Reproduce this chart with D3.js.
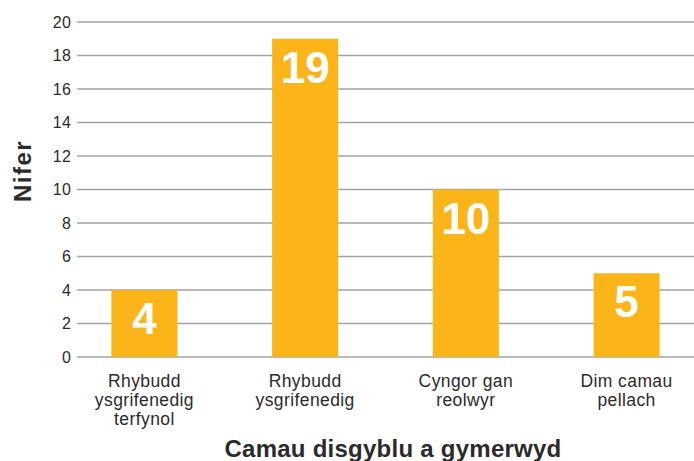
<!DOCTYPE html>
<html><head><meta charset="utf-8">
<script src="https://cdn.jsdelivr.net/npm/d3@7"></script>
<style>
body{margin:0;background:#fff;}
svg{display:block;font-family:"Liberation Sans",Arial,Helvetica,sans-serif;}
</style></head>
<body><svg id="c" width="694" height="461"></svg>
<script>
const categories = [
  ["Rhybudd","ysgrifenedig","terfynol"],
  ["Rhybudd","ysgrifenedig"],
  ["Cyngor gan","reolwyr"],
  ["Dim camau","pellach"]
];
const values = [4, 19, 10, 5];
const yTicks = [0,2,4,6,8,10,12,14,16,18,20];
const yTitle = "Nifer";
const xTitle = "Camau disgyblu a gymerwyd";

const svg = d3.select("#c");
const mLeft = 77, mRight = 694, mTop = 22, mBottom = 357;
const x = d3.scaleBand().domain(d3.range(values.length)).range([mLeft, mRight])
  .paddingInner(0.589).paddingOuter(0.214);
const y = d3.scaleLinear().domain([0,20]).range([mBottom, mTop]);

// gridlines
svg.append("g").selectAll("line").data(yTicks).join("line")
  .attr("x1", mLeft).attr("x2", mRight)
  .attr("y1", d => y(d)).attr("y2", d => y(d))
  .attr("stroke", "#a3a3a3").attr("stroke-width", 1.3);

// y axis labels
const ya = svg.append("g").attr("transform", `translate(${mLeft},0)`)
  .call(d3.axisLeft(y).tickValues(yTicks).tickSize(0).tickPadding(6));
ya.select(".domain").remove();
ya.selectAll("text").attr("font-size", 16).attr("fill", "#2b2b2b")
  .attr("font-family", '"Liberation Sans",Arial,sans-serif').attr("letter-spacing", 0.2);

// bars
svg.append("g").selectAll("rect").data(values).join("rect")
  .attr("x", (d,i) => x(i)).attr("width", x.bandwidth())
  .attr("y", d => y(d)).attr("height", d => y(0) - y(d))
  .attr("fill", "#fbb519");

// value labels
svg.append("g").selectAll("text").data(values).join("text")
  .attr("x", (d,i) => x(i) + x.bandwidth()/2)
  .attr("y", d => y(d) + 44)
  .attr("text-anchor", "middle")
  .attr("font-size", 44).attr("font-weight", "bold").attr("fill", "#fff")
  .text(d => d);

// category labels
const cg = svg.append("g");
categories.forEach((lines, i) => {
  const t = cg.append("text").attr("text-anchor", "middle")
    .attr("font-size", 17.5).attr("fill", "#2b2b2b").attr("letter-spacing", 0.4);
  lines.forEach((l, j) => {
    t.append("tspan").attr("x", x(i) + x.bandwidth()/2).attr("y", 387 + j*19).text(l);
  });
});

// axis titles
svg.append("text").attr("x", 393).attr("y", 457).attr("text-anchor", "middle")
  .attr("font-size", 24).attr("font-weight", "bold").attr("fill", "#2b2b2b")
  .attr("letter-spacing", 0.25).text(xTitle);
svg.append("text").attr("transform", "translate(31,171) rotate(-90)")
  .attr("text-anchor", "middle").attr("font-size", 24).attr("font-weight", "bold")
  .attr("fill", "#2b2b2b").attr("letter-spacing", 1.5).text(yTitle);
</script></body></html>
